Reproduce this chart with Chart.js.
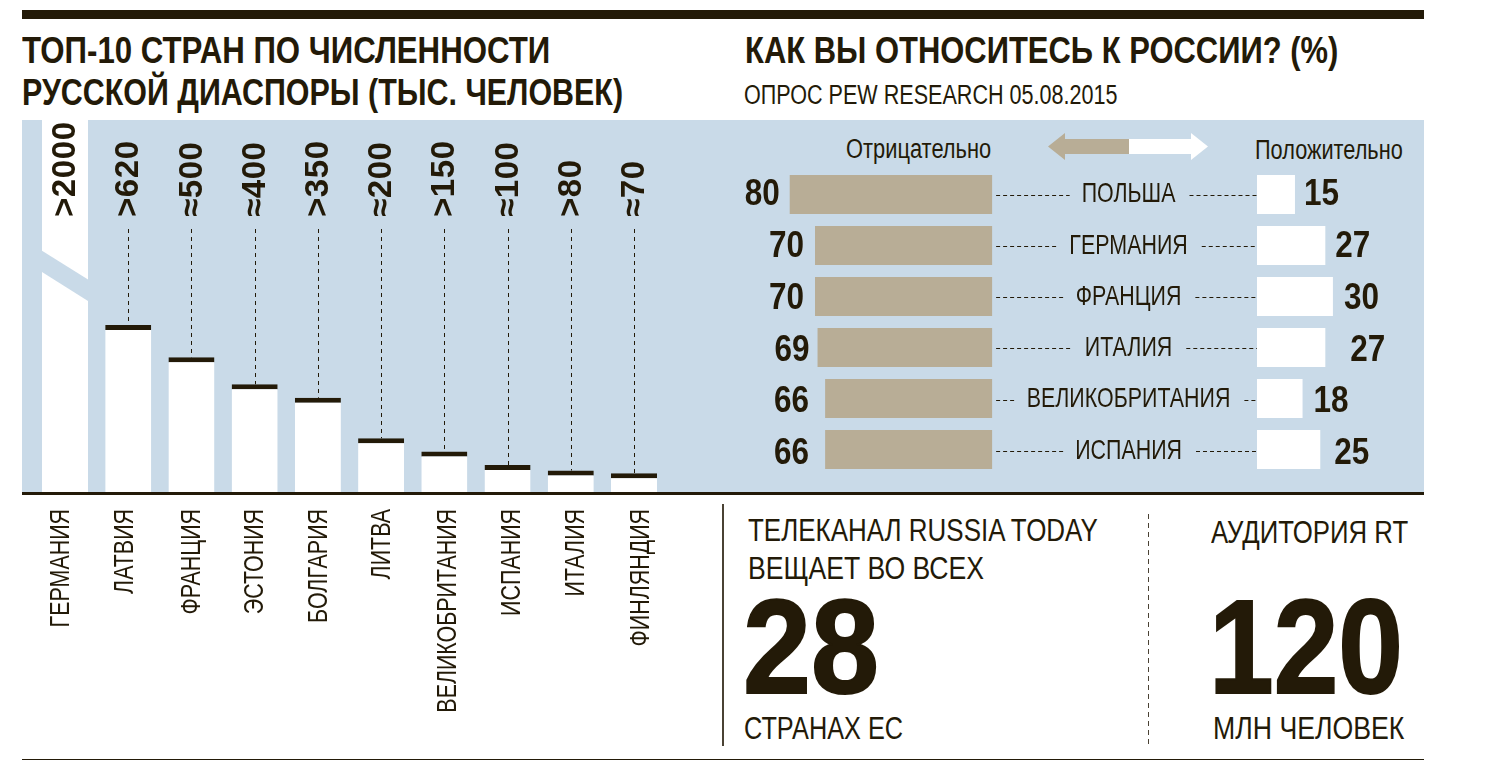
<!DOCTYPE html>
<html>
<head>
<meta charset="utf-8">
<script src="https://cdn.jsdelivr.net/npm/chart.js@4"></script>
<style>
html, body { margin: 0; background: #fff; }
body { position: relative; width: 1499px; height: 774px; overflow: hidden; color: #231a08; font-family: 'Liberation Sans', sans-serif; }
.box { position: absolute; }
.t { position: absolute; white-space: nowrap; line-height: 1; transform-origin: 0 0; }
.title { font-weight: 700; font-size: 37px; }
.big { font-weight: 700; font-size: 133px; -webkit-text-stroke: 2px #231a08; }
.txt { font-size: 31px; }
canvas { position: absolute; }
</style>
</head>
<body>
<div class="box" style="left:22px;top:10px;width:1402px;height:9px;background:#231a08"></div>
<div class="box" style="left:22px;top:120px;width:1402px;height:373px;background:#c9dae8"></div>
<div class="box" style="left:22px;top:492px;width:1402px;height:3px;background:#231a08"></div>
<div class="box" style="left:22px;top:759px;width:1402px;height:1px;background:#231a08"></div>
<div class="box" style="left:722px;top:504px;width:2px;height:242px;background:#4a4234"></div>
<div class="box" style="left:1148px;top:514px;width:1px;height:232px;background:repeating-linear-gradient(to bottom,#4a4234 0 5px,transparent 5px 9px)"></div>

<div class="t title" data-w="528" style="left:22px;top:32px">ТОП-10 СТРАН ПО ЧИСЛЕННОСТИ</div>
<div class="t title" data-w="601" style="left:22px;top:74px">РУССКОЙ ДИАСПОРЫ (ТЫС. ЧЕЛОВЕК)</div>
<div class="t title" data-w="593" style="left:745px;top:32px">КАК ВЫ ОТНОСИТЕСЬ К РОССИИ? (%)</div>
<div class="t" data-w="374" style="left:744px;top:82px;font-size:27px">ОПРОС PEW RESEARCH 05.08.2015</div>

<div class="t" data-w="145" style="left:846px;top:136px;font-size:27px">Отрицательно</div>
<div class="t" data-w="148" style="left:1255px;top:137px;font-size:27px">Положительно</div>
<svg class="box" style="left:1048px;top:133px" width="162" height="27">
  <polygon points="0,13.5 17,0 17,6 81,6 81,21 17,21 17,27" fill="#b8ad96"/>
  <polygon points="81,6 143,6 143,0 160,13.5 143,27 143,21 81,21" fill="#fff"/>
</svg>

<div class="t txt" data-w="350" style="left:748px;top:515px">ТЕЛЕКАНАЛ RUSSIA TODAY</div>
<div class="t txt" data-w="236" style="left:748px;top:553px">ВЕЩАЕТ ВО ВСЕХ</div>
<div class="t big" data-w="136" style="left:743px;top:581px">28</div>
<div class="t txt" data-w="159" style="left:744px;top:713px">СТРАНАХ ЕС</div>
<div class="t txt" data-w="197" style="left:1211px;top:517px">АУДИТОРИЯ RT</div>
<div class="t big" data-w="194" style="left:1209px;top:581px">120</div>
<div class="t txt" data-w="191" style="left:1213px;top:713px">МЛН ЧЕЛОВЕК</div>

<canvas id="chartDiaspora" width="720" height="600" style="left:0;top:120px"></canvas>
<canvas id="chartOpinion" width="694" height="373" style="left:730px;top:120px"></canvas>

<script>
const INK = '#231a08';
const PANEL = '#c9dae8';
const BROWN = '#b8ad96';
const FONT = "'Liberation Sans', sans-serif";
const SQUEEZE = 0.765;

const DIASPORA_COUNTRIES = ['ГЕРМАНИЯ', 'ЛАТВИЯ', 'ФРАНЦИЯ', 'ЭСТОНИЯ', 'БОЛГАРИЯ', 'ЛИТВА', 'ВЕЛИКОБРИТАНИЯ', 'ИСПАНИЯ', 'ИТАЛИЯ', 'ФИНЛЯНДИЯ'];
const DIASPORA_VALUES = [2000, 620, 500, 400, 350, 200, 150, 100, 80, 70];
const DIASPORA_SIGNS = ['>', '>', '≈', '≈', '>', '≈', '>', '≈', '>', '≈'];

const OPINION_COUNTRIES = ['ПОЛЬША', 'ГЕРМАНИЯ', 'ФРАНЦИЯ', 'ИТАЛИЯ', 'ВЕЛИКОБРИТАНИЯ', 'ИСПАНИЯ'];
const NEGATIVE = [80, 70, 70, 69, 66, 66];
const POSITIVE = [15, 27, 30, 27, 18, 25];

// germany is off the scale, the axis stops at the top of the panel
const DIASPORA_AXIS_MAX = 1381;

// no narrow face is installed, so squeeze the html text to the widths of the original
document.querySelectorAll('.t').forEach(el => {
    el.style.transform = 'scaleX(' + (el.dataset.w / el.offsetWidth) + ')';
});

// the names under the axis drift a little from their bars in the original
const NAME_SHIFTS = [-5, -4, 0, 0, 0, 0, 3, 4, 5, 6];

const diasporaMarks = {
    id: 'diasporaMarks',
    afterDatasetsDraw(chart) {
        const { ctx } = chart;
        const x = chart.scales.x;
        const y = chart.scales.y;
        const bars = chart.getDatasetMeta(0).data;
        ctx.save();

        // diagonal cut through the germany bar
        const g = bars[0];
        ctx.fillStyle = PANEL;
        ctx.beginPath();
        ctx.moveTo(g.x - g.width / 2, y.getPixelForValue(896));
        ctx.lineTo(g.x + g.width / 2, y.getPixelForValue(789));
        ctx.lineTo(g.x + g.width / 2, y.getPixelForValue(709));
        ctx.lineTo(g.x - g.width / 2, y.getPixelForValue(817));
        ctx.closePath();
        ctx.fill();

        // dashed leaders
        ctx.strokeStyle = INK;
        ctx.lineWidth = 1;
        ctx.setLineDash([4, 4]);
        bars.forEach((bar, i) => {
            if (i === 0) return;
            ctx.beginPath();
            ctx.moveTo(Math.round(bar.x) + 0.5, 109);
            ctx.lineTo(Math.round(bar.x) + 0.5, bar.y);
            ctx.stroke();
        });
        ctx.setLineDash([]);

        // rotated values
        ctx.fillStyle = INK;
        ctx.textBaseline = 'middle';
        ctx.font = 'bold 33px ' + FONT;
        ctx.textAlign = 'left';
        ctx.letterSpacing = '0.6px';
        bars.forEach((bar, i) => {
            ctx.save();
            ctx.translate(bar.x, 97);
            ctx.rotate(-Math.PI / 2);
            ctx.fillText(DIASPORA_SIGNS[i] + DIASPORA_VALUES[i], 0, 1);
            ctx.restore();
        });
        ctx.letterSpacing = '0px';

        // country names under the axis, placed from the category scale
        ctx.font = '28px ' + FONT;
        ctx.textAlign = 'right';
        x.ticks.forEach((tick, i) => {
            ctx.save();
            ctx.translate(x.getPixelForTick(i) + NAME_SHIFTS[i], y.bottom + 17);
            ctx.rotate(-Math.PI / 2);
            ctx.scale(SQUEEZE, 1);
            ctx.fillText(x.getLabelForValue(tick.value), 0, 1);
            ctx.restore();
        });
        ctx.restore();
    }
};

new Chart(document.getElementById('chartDiaspora'), {
    type: 'bar',
    data: {
        labels: DIASPORA_COUNTRIES,
        datasets: [{
            data: DIASPORA_VALUES,
            backgroundColor: '#fff',
            borderColor: INK,
            borderWidth: { top: 5, right: 0, bottom: 0, left: 0 },
            borderSkipped: false,
            barPercentage: 0.728,
            categoryPercentage: 1,
        }]
    },
    options: {
        responsive: false,
        animation: false,
        layout: { padding: { left: 33.4, right: 54.4, top: 0, bottom: 220 } },
        plugins: { legend: { display: false }, tooltip: { enabled: false } },
        scales: {
            x: {
                grid: { display: false },
                border: { display: false },
                ticks: { display: false, autoSkip: false }
            },
            y: { display: false, min: 0, max: DIASPORA_AXIS_MAX }
        }
    },
    plugins: [diasporaMarks]
});

// px offsets of the figures from their bars, they are not even in the original
const NEG_GAPS = [10, 11, 11, 8, 16, 16];
const POS_GAPS = [9, 10, 11, 25, 11, 14];

const opinionMarks = {
    id: 'opinionMarks',
    afterDatasetsDraw(chart) {
        const { ctx } = chart;
        const neg = chart.getDatasetMeta(0).data;
        const pos = chart.getDatasetMeta(1).data;
        ctx.save();
        ctx.fillStyle = INK;
        ctx.textBaseline = 'middle';
        neg.forEach((bar, i) => {
            const cy = bar.y;
            const nameY = cy + i * 0.3;
            const cx = (bar.base + pos[i].base) / 2 + 4;

            ctx.font = '28px ' + FONT;
            ctx.textAlign = 'center';
            ctx.save();
            ctx.translate(cx, nameY);
            ctx.scale(SQUEEZE, 1);
            ctx.fillText(OPINION_COUNTRIES[i], 0, 0);
            ctx.restore();

            const half = ctx.measureText(OPINION_COUNTRIES[i]).width * SQUEEZE / 2;
            ctx.strokeStyle = INK;
            ctx.lineWidth = 1;
            ctx.setLineDash([4, 3]);
            ctx.beginPath();
            ctx.moveTo(bar.base + 4, Math.round(nameY) + 0.5);
            ctx.lineTo(cx - half - 12, Math.round(nameY) + 0.5);
            ctx.moveTo(cx + half + 14, Math.round(nameY) + 0.5);
            ctx.lineTo(pos[i].base, Math.round(nameY) + 0.5);
            ctx.stroke();
            ctx.setLineDash([]);

            // figures sit lower row by row
            const figY = cy + 1 + i * 0.7;
            ctx.font = 'bold 36px ' + FONT;
            ctx.textAlign = 'right';
            ctx.save();
            ctx.translate(bar.x - NEG_GAPS[i], figY);
            ctx.scale(0.875, 1);
            ctx.fillText(NEGATIVE[i], 0, 0);
            ctx.restore();
            ctx.textAlign = 'left';
            ctx.save();
            ctx.translate(pos[i].x + POS_GAPS[i], figY);
            ctx.scale(0.875, 1);
            ctx.fillText(POSITIVE[i], 0, 0);
            ctx.restore();
        });
        ctx.restore();
    }
};

new Chart(document.getElementById('chartOpinion'), {
    type: 'bar',
    data: {
        labels: OPINION_COUNTRIES,
        datasets: [
            { data: NEGATIVE, xAxisID: 'xNeg', backgroundColor: BROWN, grouped: false, barPercentage: 0.765, categoryPercentage: 1 },
            { data: POSITIVE, xAxisID: 'xPos', backgroundColor: '#fff', grouped: false, barPercentage: 0.765, categoryPercentage: 1 },
        ]
    },
    options: {
        indexAxis: 'y',
        responsive: false,
        animation: false,
        layout: { padding: { left: 0, right: 0, top: 49, bottom: 18 } },
        plugins: { legend: { display: false }, tooltip: { enabled: false } },
        scales: {
            // two value axes so the bars can leave a gap for the names
            xNeg: { type: 'linear', axis: 'x', display: false, reverse: true, min: -170.7, max: 103.6 },
            xPos: { type: 'linear', axis: 'x', display: false, min: -208.3, max: 66 },
            y: { display: false }
        }
    },
    plugins: [opinionMarks]
});
</script>
</body>
</html>
